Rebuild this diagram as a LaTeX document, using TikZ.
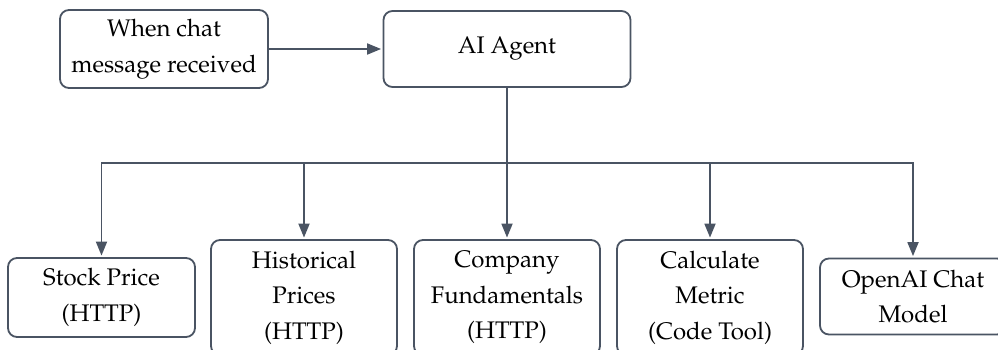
\documentclass[tikz,border=0pt]{standalone}
\usepackage[T1]{fontenc}
\usepackage{mathpazo}
\usetikzlibrary{arrows.meta}
\definecolor{edge}{RGB}{74,84,99}
\tikzset{
  box/.style={draw=edge, line width=1.8pt, rounded corners=9pt, fill=white,
    align=center, inner sep=0pt, font=\fontsize{24}{35.5}\selectfont},
  arr/.style={draw=edge, line width=1.8pt, shorten >=1.5pt,
    -{Triangle[length=14pt,width=11pt]}}
}
\begin{document}
\begin{tikzpicture}[x=1pt, y=-1pt]
  \useasboundingbox (0,0) rectangle (998,349);
  % top row
  \node[box, minimum width=208pt, minimum height=78pt] (trig) at (164,49) {When chat\\message received};
  \node[box, minimum width=247pt, minimum height=76pt] (agent) at (507,49) {AI Agent};
  % tools row
  \node[box, minimum width=187pt, minimum height=79pt] (stock) at (101.5,297.5) {Stock Price\\(HTTP)};
  \node[box, minimum width=186pt, minimum height=115pt] (hist) at (304,297.5) {Historical\\Prices\\(HTTP)};
  \node[box, minimum width=186pt, minimum height=115pt] (comp) at (507,297.5) {Company\\Fundamentals\\(HTTP)};
  \node[box, minimum width=186pt, minimum height=115pt] (calc) at (710,297.5) {Calculate\\Metric\\(Code Tool)};
  \node[box, minimum width=186pt, minimum height=76pt] (model) at (913,296.5) {OpenAI Chat\\Model};
  % connectors
  \coordinate (bus) at (0,163);
  \draw[arr] (trig.east) -- (agent.west);
  \draw[arr] (agent.south) -- (agent.south |- bus) -| (stock.north);
  \draw[arr] (agent.south) -- (agent.south |- bus) -| (hist.north);
  \draw[arr] (agent.south) -- (comp.north);
  \draw[arr] (agent.south) -- (agent.south |- bus) -| (calc.north);
  \draw[arr] (agent.south) -- (agent.south |- bus) -| (model.north);
\end{tikzpicture}
\end{document}
